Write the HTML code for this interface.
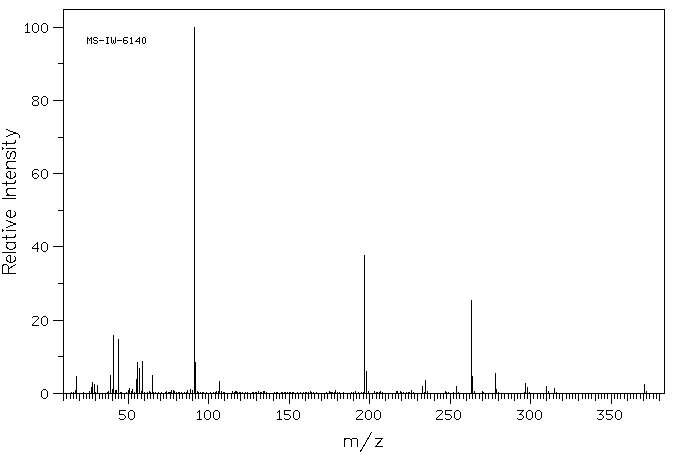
<!DOCTYPE html>
<html><head><meta charset="utf-8"><title>MS-IW-6140</title>
<style>html,body{margin:0;padding:0;background:#fff;font-family:"Liberation Sans",sans-serif}svg{display:block}</style>
</head><body>
<svg width="676" height="455" viewBox="0 0 676 455">
<rect width="676" height="455" fill="#fff"/>
<g fill="#000" shape-rendering="crispEdges">
<rect x="63" y="9" width="602" height="1"/>
<rect x="63" y="9" width="1" height="385"/>
<rect x="664" y="9" width="1" height="385"/>
<rect x="53" y="393" width="612" height="1"/>
<rect x="53" y="27" width="10" height="1"/>
<rect x="58" y="63" width="5" height="1"/>
<rect x="53" y="100" width="10" height="1"/>
<rect x="58" y="137" width="5" height="1"/>
<rect x="53" y="173" width="10" height="1"/>
<rect x="58" y="210" width="5" height="1"/>
<rect x="53" y="246" width="10" height="1"/>
<rect x="58" y="283" width="5" height="1"/>
<rect x="53" y="320" width="10" height="1"/>
<rect x="58" y="356" width="5" height="1"/>
<rect x="53" y="393" width="10" height="1"/>
<rect x="63" y="394" width="1" height="7"/>
<rect x="66" y="394" width="1" height="5"/>
<rect x="70" y="394" width="1" height="5"/>
<rect x="73" y="394" width="1" height="5"/>
<rect x="76" y="394" width="1" height="5"/>
<rect x="79" y="394" width="1" height="7"/>
<rect x="83" y="394" width="1" height="5"/>
<rect x="86" y="394" width="1" height="5"/>
<rect x="89" y="394" width="1" height="5"/>
<rect x="92" y="394" width="1" height="5"/>
<rect x="95" y="394" width="1" height="7"/>
<rect x="99" y="394" width="1" height="5"/>
<rect x="102" y="394" width="1" height="5"/>
<rect x="105" y="394" width="1" height="5"/>
<rect x="108" y="394" width="1" height="5"/>
<rect x="112" y="394" width="1" height="7"/>
<rect x="115" y="394" width="1" height="5"/>
<rect x="118" y="394" width="1" height="5"/>
<rect x="121" y="394" width="1" height="5"/>
<rect x="124" y="394" width="1" height="5"/>
<rect x="128" y="394" width="1" height="10"/>
<rect x="131" y="394" width="1" height="5"/>
<rect x="134" y="394" width="1" height="5"/>
<rect x="137" y="394" width="1" height="5"/>
<rect x="141" y="394" width="1" height="5"/>
<rect x="144" y="394" width="1" height="7"/>
<rect x="147" y="394" width="1" height="5"/>
<rect x="150" y="394" width="1" height="5"/>
<rect x="153" y="394" width="1" height="5"/>
<rect x="157" y="394" width="1" height="5"/>
<rect x="160" y="394" width="1" height="7"/>
<rect x="163" y="394" width="1" height="5"/>
<rect x="166" y="394" width="1" height="5"/>
<rect x="170" y="394" width="1" height="5"/>
<rect x="173" y="394" width="1" height="5"/>
<rect x="176" y="394" width="1" height="7"/>
<rect x="179" y="394" width="1" height="5"/>
<rect x="182" y="394" width="1" height="5"/>
<rect x="186" y="394" width="1" height="5"/>
<rect x="189" y="394" width="1" height="5"/>
<rect x="192" y="394" width="1" height="7"/>
<rect x="195" y="394" width="1" height="5"/>
<rect x="198" y="394" width="1" height="5"/>
<rect x="202" y="394" width="1" height="5"/>
<rect x="205" y="394" width="1" height="5"/>
<rect x="208" y="394" width="1" height="10"/>
<rect x="211" y="394" width="1" height="5"/>
<rect x="215" y="394" width="1" height="5"/>
<rect x="218" y="394" width="1" height="5"/>
<rect x="221" y="394" width="1" height="5"/>
<rect x="224" y="394" width="1" height="7"/>
<rect x="227" y="394" width="1" height="5"/>
<rect x="231" y="394" width="1" height="5"/>
<rect x="234" y="394" width="1" height="5"/>
<rect x="237" y="394" width="1" height="5"/>
<rect x="240" y="394" width="1" height="7"/>
<rect x="244" y="394" width="1" height="5"/>
<rect x="247" y="394" width="1" height="5"/>
<rect x="250" y="394" width="1" height="5"/>
<rect x="253" y="394" width="1" height="5"/>
<rect x="256" y="394" width="1" height="7"/>
<rect x="260" y="394" width="1" height="5"/>
<rect x="263" y="394" width="1" height="5"/>
<rect x="266" y="394" width="1" height="5"/>
<rect x="269" y="394" width="1" height="5"/>
<rect x="273" y="394" width="1" height="7"/>
<rect x="276" y="394" width="1" height="5"/>
<rect x="279" y="394" width="1" height="5"/>
<rect x="282" y="394" width="1" height="5"/>
<rect x="285" y="394" width="1" height="5"/>
<rect x="289" y="394" width="1" height="10"/>
<rect x="292" y="394" width="1" height="5"/>
<rect x="295" y="394" width="1" height="5"/>
<rect x="298" y="394" width="1" height="5"/>
<rect x="302" y="394" width="1" height="5"/>
<rect x="305" y="394" width="1" height="7"/>
<rect x="308" y="394" width="1" height="5"/>
<rect x="311" y="394" width="1" height="5"/>
<rect x="314" y="394" width="1" height="5"/>
<rect x="318" y="394" width="1" height="5"/>
<rect x="321" y="394" width="1" height="7"/>
<rect x="324" y="394" width="1" height="5"/>
<rect x="327" y="394" width="1" height="5"/>
<rect x="331" y="394" width="1" height="5"/>
<rect x="334" y="394" width="1" height="5"/>
<rect x="337" y="394" width="1" height="7"/>
<rect x="340" y="394" width="1" height="5"/>
<rect x="343" y="394" width="1" height="5"/>
<rect x="347" y="394" width="1" height="5"/>
<rect x="350" y="394" width="1" height="5"/>
<rect x="353" y="394" width="1" height="7"/>
<rect x="356" y="394" width="1" height="5"/>
<rect x="359" y="394" width="1" height="5"/>
<rect x="363" y="394" width="1" height="5"/>
<rect x="366" y="394" width="1" height="5"/>
<rect x="369" y="394" width="1" height="10"/>
<rect x="372" y="394" width="1" height="5"/>
<rect x="376" y="394" width="1" height="5"/>
<rect x="379" y="394" width="1" height="5"/>
<rect x="382" y="394" width="1" height="5"/>
<rect x="385" y="394" width="1" height="7"/>
<rect x="388" y="394" width="1" height="5"/>
<rect x="392" y="394" width="1" height="5"/>
<rect x="395" y="394" width="1" height="5"/>
<rect x="398" y="394" width="1" height="5"/>
<rect x="401" y="394" width="1" height="7"/>
<rect x="405" y="394" width="1" height="5"/>
<rect x="408" y="394" width="1" height="5"/>
<rect x="411" y="394" width="1" height="5"/>
<rect x="414" y="394" width="1" height="5"/>
<rect x="417" y="394" width="1" height="7"/>
<rect x="421" y="394" width="1" height="5"/>
<rect x="424" y="394" width="1" height="5"/>
<rect x="427" y="394" width="1" height="5"/>
<rect x="430" y="394" width="1" height="5"/>
<rect x="434" y="394" width="1" height="7"/>
<rect x="437" y="394" width="1" height="5"/>
<rect x="440" y="394" width="1" height="5"/>
<rect x="443" y="394" width="1" height="5"/>
<rect x="446" y="394" width="1" height="5"/>
<rect x="450" y="394" width="1" height="10"/>
<rect x="453" y="394" width="1" height="5"/>
<rect x="456" y="394" width="1" height="5"/>
<rect x="459" y="394" width="1" height="5"/>
<rect x="463" y="394" width="1" height="5"/>
<rect x="466" y="394" width="1" height="7"/>
<rect x="469" y="394" width="1" height="5"/>
<rect x="472" y="394" width="1" height="5"/>
<rect x="475" y="394" width="1" height="5"/>
<rect x="479" y="394" width="1" height="5"/>
<rect x="482" y="394" width="1" height="7"/>
<rect x="485" y="394" width="1" height="5"/>
<rect x="488" y="394" width="1" height="5"/>
<rect x="492" y="394" width="1" height="5"/>
<rect x="495" y="394" width="1" height="5"/>
<rect x="498" y="394" width="1" height="7"/>
<rect x="501" y="394" width="1" height="5"/>
<rect x="504" y="394" width="1" height="5"/>
<rect x="508" y="394" width="1" height="5"/>
<rect x="511" y="394" width="1" height="5"/>
<rect x="514" y="394" width="1" height="7"/>
<rect x="517" y="394" width="1" height="5"/>
<rect x="520" y="394" width="1" height="5"/>
<rect x="524" y="394" width="1" height="5"/>
<rect x="527" y="394" width="1" height="5"/>
<rect x="530" y="394" width="1" height="10"/>
<rect x="533" y="394" width="1" height="5"/>
<rect x="537" y="394" width="1" height="5"/>
<rect x="540" y="394" width="1" height="5"/>
<rect x="543" y="394" width="1" height="5"/>
<rect x="546" y="394" width="1" height="7"/>
<rect x="549" y="394" width="1" height="5"/>
<rect x="553" y="394" width="1" height="5"/>
<rect x="556" y="394" width="1" height="5"/>
<rect x="559" y="394" width="1" height="5"/>
<rect x="562" y="394" width="1" height="7"/>
<rect x="566" y="394" width="1" height="5"/>
<rect x="569" y="394" width="1" height="5"/>
<rect x="572" y="394" width="1" height="5"/>
<rect x="575" y="394" width="1" height="5"/>
<rect x="578" y="394" width="1" height="7"/>
<rect x="582" y="394" width="1" height="5"/>
<rect x="585" y="394" width="1" height="5"/>
<rect x="588" y="394" width="1" height="5"/>
<rect x="591" y="394" width="1" height="5"/>
<rect x="595" y="394" width="1" height="7"/>
<rect x="598" y="394" width="1" height="5"/>
<rect x="601" y="394" width="1" height="5"/>
<rect x="604" y="394" width="1" height="5"/>
<rect x="607" y="394" width="1" height="5"/>
<rect x="611" y="394" width="1" height="10"/>
<rect x="614" y="394" width="1" height="5"/>
<rect x="617" y="394" width="1" height="5"/>
<rect x="620" y="394" width="1" height="5"/>
<rect x="624" y="394" width="1" height="5"/>
<rect x="627" y="394" width="1" height="7"/>
<rect x="630" y="394" width="1" height="5"/>
<rect x="633" y="394" width="1" height="5"/>
<rect x="636" y="394" width="1" height="5"/>
<rect x="640" y="394" width="1" height="5"/>
<rect x="643" y="394" width="1" height="7"/>
<rect x="646" y="394" width="1" height="5"/>
<rect x="649" y="394" width="1" height="5"/>
<rect x="653" y="394" width="1" height="5"/>
<rect x="656" y="394" width="1" height="5"/>
<rect x="659" y="394" width="1" height="7"/>
<rect x="71" y="392" width="1" height="1"/>
<rect x="73" y="392" width="1" height="1"/>
<rect x="75" y="390" width="1" height="3"/>
<rect x="76" y="376" width="1" height="17"/>
<rect x="83" y="392" width="1" height="1"/>
<rect x="89" y="391" width="1" height="2"/>
<rect x="91" y="387" width="1" height="6"/>
<rect x="92" y="382" width="1" height="11"/>
<rect x="94" y="384" width="1" height="9"/>
<rect x="95" y="392" width="1" height="1"/>
<rect x="97" y="385" width="1" height="8"/>
<rect x="107" y="392" width="1" height="1"/>
<rect x="108" y="391" width="1" height="2"/>
<rect x="110" y="375" width="1" height="18"/>
<rect x="112" y="389" width="1" height="4"/>
<rect x="113" y="335" width="1" height="58"/>
<rect x="115" y="390" width="1" height="3"/>
<rect x="116" y="390" width="1" height="3"/>
<rect x="118" y="339" width="1" height="54"/>
<rect x="120" y="392" width="1" height="1"/>
<rect x="121" y="392" width="1" height="1"/>
<rect x="126" y="392" width="1" height="1"/>
<rect x="128" y="390" width="1" height="3"/>
<rect x="129" y="388" width="1" height="5"/>
<rect x="131" y="391" width="1" height="2"/>
<rect x="132" y="389" width="1" height="4"/>
<rect x="134" y="392" width="1" height="1"/>
<rect x="136" y="379" width="1" height="14"/>
<rect x="137" y="362" width="1" height="31"/>
<rect x="139" y="368" width="1" height="25"/>
<rect x="141" y="391" width="1" height="2"/>
<rect x="142" y="361" width="1" height="32"/>
<rect x="144" y="392" width="1" height="1"/>
<rect x="147" y="392" width="1" height="1"/>
<rect x="149" y="391" width="1" height="2"/>
<rect x="150" y="392" width="1" height="1"/>
<rect x="152" y="375" width="1" height="18"/>
<rect x="153" y="392" width="1" height="1"/>
<rect x="155" y="392" width="1" height="1"/>
<rect x="158" y="392" width="1" height="1"/>
<rect x="161" y="392" width="1" height="1"/>
<rect x="165" y="392" width="1" height="1"/>
<rect x="166" y="391" width="1" height="2"/>
<rect x="168" y="392" width="1" height="1"/>
<rect x="169" y="392" width="1" height="1"/>
<rect x="170" y="392" width="1" height="1"/>
<rect x="171" y="390" width="1" height="3"/>
<rect x="173" y="390" width="1" height="3"/>
<rect x="174" y="391" width="1" height="2"/>
<rect x="176" y="392" width="1" height="1"/>
<rect x="178" y="392" width="1" height="1"/>
<rect x="179" y="392" width="1" height="1"/>
<rect x="181" y="392" width="1" height="1"/>
<rect x="184" y="392" width="1" height="1"/>
<rect x="186" y="392" width="1" height="1"/>
<rect x="187" y="390" width="1" height="3"/>
<rect x="190" y="389" width="1" height="4"/>
<rect x="192" y="390" width="1" height="3"/>
<rect x="194" y="27" width="1" height="366"/>
<rect x="195" y="362" width="1" height="31"/>
<rect x="197" y="391" width="1" height="2"/>
<rect x="198" y="392" width="1" height="1"/>
<rect x="200" y="392" width="1" height="1"/>
<rect x="202" y="392" width="1" height="1"/>
<rect x="203" y="392" width="1" height="1"/>
<rect x="206" y="392" width="1" height="1"/>
<rect x="210" y="392" width="1" height="1"/>
<rect x="213" y="392" width="1" height="1"/>
<rect x="215" y="392" width="1" height="1"/>
<rect x="216" y="391" width="1" height="2"/>
<rect x="218" y="391" width="1" height="2"/>
<rect x="219" y="381" width="1" height="12"/>
<rect x="221" y="391" width="1" height="2"/>
<rect x="223" y="392" width="1" height="1"/>
<rect x="224" y="392" width="1" height="1"/>
<rect x="232" y="391" width="1" height="2"/>
<rect x="234" y="392" width="1" height="1"/>
<rect x="235" y="391" width="1" height="2"/>
<rect x="236" y="391" width="1" height="2"/>
<rect x="237" y="392" width="1" height="1"/>
<rect x="239" y="392" width="1" height="1"/>
<rect x="240" y="392" width="1" height="1"/>
<rect x="242" y="392" width="1" height="1"/>
<rect x="245" y="392" width="1" height="1"/>
<rect x="247" y="392" width="1" height="1"/>
<rect x="252" y="392" width="1" height="1"/>
<rect x="253" y="392" width="1" height="1"/>
<rect x="255" y="392" width="1" height="1"/>
<rect x="256" y="392" width="1" height="1"/>
<rect x="258" y="391" width="1" height="2"/>
<rect x="260" y="392" width="1" height="1"/>
<rect x="261" y="392" width="1" height="1"/>
<rect x="263" y="391" width="1" height="2"/>
<rect x="264" y="391" width="1" height="2"/>
<rect x="266" y="392" width="1" height="1"/>
<rect x="274" y="392" width="1" height="1"/>
<rect x="276" y="392" width="1" height="1"/>
<rect x="277" y="392" width="1" height="1"/>
<rect x="281" y="392" width="1" height="1"/>
<rect x="282" y="392" width="1" height="1"/>
<rect x="284" y="392" width="1" height="1"/>
<rect x="285" y="392" width="1" height="1"/>
<rect x="287" y="392" width="1" height="1"/>
<rect x="289" y="392" width="1" height="1"/>
<rect x="290" y="392" width="1" height="1"/>
<rect x="292" y="392" width="1" height="1"/>
<rect x="293" y="392" width="1" height="1"/>
<rect x="297" y="392" width="1" height="1"/>
<rect x="300" y="392" width="1" height="1"/>
<rect x="303" y="392" width="1" height="1"/>
<rect x="305" y="392" width="1" height="1"/>
<rect x="306" y="392" width="1" height="1"/>
<rect x="308" y="392" width="1" height="1"/>
<rect x="310" y="391" width="1" height="2"/>
<rect x="311" y="392" width="1" height="1"/>
<rect x="313" y="392" width="1" height="1"/>
<rect x="316" y="392" width="1" height="1"/>
<rect x="326" y="392" width="1" height="1"/>
<rect x="329" y="391" width="1" height="2"/>
<rect x="330" y="392" width="1" height="1"/>
<rect x="331" y="392" width="1" height="1"/>
<rect x="332" y="392" width="1" height="1"/>
<rect x="334" y="392" width="1" height="1"/>
<rect x="335" y="390" width="1" height="3"/>
<rect x="337" y="392" width="1" height="1"/>
<rect x="339" y="392" width="1" height="1"/>
<rect x="343" y="392" width="1" height="1"/>
<rect x="351" y="392" width="1" height="1"/>
<rect x="353" y="392" width="1" height="1"/>
<rect x="355" y="391" width="1" height="2"/>
<rect x="358" y="392" width="1" height="1"/>
<rect x="361" y="392" width="1" height="1"/>
<rect x="363" y="392" width="1" height="1"/>
<rect x="364" y="255" width="1" height="138"/>
<rect x="366" y="371" width="1" height="22"/>
<rect x="368" y="391" width="1" height="2"/>
<rect x="374" y="391" width="1" height="2"/>
<rect x="376" y="392" width="1" height="1"/>
<rect x="377" y="392" width="1" height="1"/>
<rect x="379" y="392" width="1" height="1"/>
<rect x="380" y="391" width="1" height="2"/>
<rect x="382" y="392" width="1" height="1"/>
<rect x="396" y="391" width="1" height="2"/>
<rect x="397" y="391" width="1" height="2"/>
<rect x="400" y="391" width="1" height="2"/>
<rect x="401" y="392" width="1" height="1"/>
<rect x="403" y="392" width="1" height="1"/>
<rect x="406" y="392" width="1" height="1"/>
<rect x="408" y="392" width="1" height="1"/>
<rect x="409" y="392" width="1" height="1"/>
<rect x="411" y="390" width="1" height="3"/>
<rect x="413" y="392" width="1" height="1"/>
<rect x="422" y="386" width="1" height="7"/>
<rect x="424" y="392" width="1" height="1"/>
<rect x="425" y="380" width="1" height="13"/>
<rect x="427" y="391" width="1" height="2"/>
<rect x="445" y="391" width="1" height="2"/>
<rect x="446" y="392" width="1" height="1"/>
<rect x="448" y="392" width="1" height="1"/>
<rect x="453" y="392" width="1" height="1"/>
<rect x="456" y="386" width="1" height="7"/>
<rect x="458" y="392" width="1" height="1"/>
<rect x="471" y="300" width="1" height="93"/>
<rect x="472" y="376" width="1" height="17"/>
<rect x="474" y="391" width="1" height="2"/>
<rect x="482" y="391" width="1" height="2"/>
<rect x="483" y="392" width="1" height="1"/>
<rect x="495" y="373" width="1" height="20"/>
<rect x="496" y="389" width="1" height="4"/>
<rect x="498" y="392" width="1" height="1"/>
<rect x="524" y="392" width="1" height="1"/>
<rect x="525" y="383" width="1" height="10"/>
<rect x="527" y="387" width="1" height="6"/>
<rect x="529" y="392" width="1" height="1"/>
<rect x="546" y="386" width="1" height="7"/>
<rect x="548" y="391" width="1" height="2"/>
<rect x="554" y="388" width="1" height="5"/>
<rect x="556" y="392" width="1" height="1"/>
<rect x="644" y="384" width="1" height="9"/>
<rect x="646" y="391" width="1" height="2"/>
<rect x="87" y="37" width="1" height="1"/>
<rect x="91" y="37" width="1" height="1"/>
<rect x="87" y="38" width="2" height="1"/>
<rect x="90" y="38" width="2" height="1"/>
<rect x="87" y="39" width="1" height="1"/>
<rect x="89" y="39" width="1" height="1"/>
<rect x="91" y="39" width="1" height="1"/>
<rect x="87" y="40" width="1" height="1"/>
<rect x="89" y="40" width="1" height="1"/>
<rect x="91" y="40" width="1" height="1"/>
<rect x="87" y="41" width="1" height="1"/>
<rect x="91" y="41" width="1" height="1"/>
<rect x="87" y="42" width="1" height="1"/>
<rect x="91" y="42" width="1" height="1"/>
<rect x="87" y="43" width="1" height="1"/>
<rect x="91" y="43" width="1" height="1"/>
<rect x="94" y="37" width="3" height="1"/>
<rect x="93" y="38" width="1" height="1"/>
<rect x="97" y="38" width="1" height="1"/>
<rect x="93" y="39" width="1" height="1"/>
<rect x="94" y="40" width="3" height="1"/>
<rect x="97" y="41" width="1" height="1"/>
<rect x="93" y="42" width="1" height="1"/>
<rect x="97" y="42" width="1" height="1"/>
<rect x="94" y="43" width="3" height="1"/>
<rect x="99" y="40" width="5" height="1"/>
<rect x="106" y="37" width="3" height="1"/>
<rect x="107" y="38" width="1" height="1"/>
<rect x="107" y="39" width="1" height="1"/>
<rect x="107" y="40" width="1" height="1"/>
<rect x="107" y="41" width="1" height="1"/>
<rect x="107" y="42" width="1" height="1"/>
<rect x="106" y="43" width="3" height="1"/>
<rect x="111" y="37" width="1" height="1"/>
<rect x="115" y="37" width="1" height="1"/>
<rect x="111" y="38" width="1" height="1"/>
<rect x="115" y="38" width="1" height="1"/>
<rect x="111" y="39" width="1" height="1"/>
<rect x="115" y="39" width="1" height="1"/>
<rect x="111" y="40" width="1" height="1"/>
<rect x="113" y="40" width="1" height="1"/>
<rect x="115" y="40" width="1" height="1"/>
<rect x="111" y="41" width="1" height="1"/>
<rect x="113" y="41" width="1" height="1"/>
<rect x="115" y="41" width="1" height="1"/>
<rect x="111" y="42" width="1" height="1"/>
<rect x="113" y="42" width="1" height="1"/>
<rect x="115" y="42" width="1" height="1"/>
<rect x="112" y="43" width="1" height="1"/>
<rect x="114" y="43" width="1" height="1"/>
<rect x="117" y="40" width="5" height="1"/>
<rect x="124" y="37" width="4" height="1"/>
<rect x="123" y="38" width="1" height="1"/>
<rect x="123" y="39" width="1" height="1"/>
<rect x="123" y="40" width="4" height="1"/>
<rect x="123" y="41" width="1" height="1"/>
<rect x="127" y="41" width="1" height="1"/>
<rect x="123" y="42" width="1" height="1"/>
<rect x="127" y="42" width="1" height="1"/>
<rect x="124" y="43" width="3" height="1"/>
<rect x="131" y="37" width="1" height="1"/>
<rect x="130" y="38" width="2" height="1"/>
<rect x="131" y="39" width="1" height="1"/>
<rect x="131" y="40" width="1" height="1"/>
<rect x="131" y="41" width="1" height="1"/>
<rect x="131" y="42" width="1" height="1"/>
<rect x="130" y="43" width="3" height="1"/>
<rect x="139" y="37" width="1" height="1"/>
<rect x="138" y="38" width="2" height="1"/>
<rect x="137" y="39" width="1" height="1"/>
<rect x="139" y="39" width="1" height="1"/>
<rect x="136" y="40" width="1" height="1"/>
<rect x="139" y="40" width="1" height="1"/>
<rect x="135" y="41" width="5" height="1"/>
<rect x="139" y="42" width="1" height="1"/>
<rect x="139" y="43" width="1" height="1"/>
<rect x="143" y="37" width="2" height="1"/>
<rect x="142" y="38" width="1" height="1"/>
<rect x="145" y="38" width="1" height="1"/>
<rect x="142" y="39" width="1" height="1"/>
<rect x="145" y="39" width="1" height="1"/>
<rect x="142" y="40" width="1" height="1"/>
<rect x="145" y="40" width="1" height="1"/>
<rect x="142" y="41" width="1" height="1"/>
<rect x="145" y="41" width="1" height="1"/>
<rect x="142" y="42" width="1" height="1"/>
<rect x="145" y="42" width="1" height="1"/>
<rect x="143" y="43" width="2" height="1"/>
<rect x="27" y="23" width="1" height="1"/>
<rect x="26" y="24" width="2" height="1"/>
<rect x="25" y="25" width="1" height="1"/>
<rect x="27" y="25" width="1" height="1"/>
<rect x="27" y="26" width="1" height="1"/>
<rect x="27" y="27" width="1" height="1"/>
<rect x="27" y="28" width="1" height="1"/>
<rect x="27" y="29" width="1" height="1"/>
<rect x="27" y="30" width="1" height="1"/>
<rect x="27" y="31" width="1" height="1"/>
<rect x="25" y="32" width="5" height="1"/>
<rect x="34" y="23" width="3" height="1"/>
<rect x="33" y="24" width="1" height="1"/>
<rect x="37" y="24" width="1" height="1"/>
<rect x="32" y="25" width="1" height="1"/>
<rect x="38" y="25" width="1" height="1"/>
<rect x="32" y="26" width="1" height="1"/>
<rect x="38" y="26" width="1" height="1"/>
<rect x="32" y="27" width="1" height="1"/>
<rect x="38" y="27" width="1" height="1"/>
<rect x="32" y="28" width="1" height="1"/>
<rect x="38" y="28" width="1" height="1"/>
<rect x="32" y="29" width="1" height="1"/>
<rect x="38" y="29" width="1" height="1"/>
<rect x="32" y="30" width="1" height="1"/>
<rect x="38" y="30" width="1" height="1"/>
<rect x="33" y="31" width="1" height="1"/>
<rect x="37" y="31" width="1" height="1"/>
<rect x="34" y="32" width="3" height="1"/>
<rect x="43" y="23" width="3" height="1"/>
<rect x="42" y="24" width="1" height="1"/>
<rect x="46" y="24" width="1" height="1"/>
<rect x="41" y="25" width="1" height="1"/>
<rect x="47" y="25" width="1" height="1"/>
<rect x="41" y="26" width="1" height="1"/>
<rect x="47" y="26" width="1" height="1"/>
<rect x="41" y="27" width="1" height="1"/>
<rect x="47" y="27" width="1" height="1"/>
<rect x="41" y="28" width="1" height="1"/>
<rect x="47" y="28" width="1" height="1"/>
<rect x="41" y="29" width="1" height="1"/>
<rect x="47" y="29" width="1" height="1"/>
<rect x="41" y="30" width="1" height="1"/>
<rect x="47" y="30" width="1" height="1"/>
<rect x="42" y="31" width="1" height="1"/>
<rect x="46" y="31" width="1" height="1"/>
<rect x="43" y="32" width="3" height="1"/>
<rect x="33" y="96" width="5" height="1"/>
<rect x="32" y="97" width="1" height="1"/>
<rect x="38" y="97" width="1" height="1"/>
<rect x="32" y="98" width="1" height="1"/>
<rect x="38" y="98" width="1" height="1"/>
<rect x="33" y="99" width="1" height="1"/>
<rect x="37" y="99" width="1" height="1"/>
<rect x="34" y="100" width="3" height="1"/>
<rect x="33" y="101" width="1" height="1"/>
<rect x="37" y="101" width="1" height="1"/>
<rect x="32" y="102" width="1" height="1"/>
<rect x="38" y="102" width="1" height="1"/>
<rect x="32" y="103" width="1" height="1"/>
<rect x="38" y="103" width="1" height="1"/>
<rect x="32" y="104" width="1" height="1"/>
<rect x="38" y="104" width="1" height="1"/>
<rect x="33" y="105" width="5" height="1"/>
<rect x="43" y="96" width="3" height="1"/>
<rect x="42" y="97" width="1" height="1"/>
<rect x="46" y="97" width="1" height="1"/>
<rect x="41" y="98" width="1" height="1"/>
<rect x="47" y="98" width="1" height="1"/>
<rect x="41" y="99" width="1" height="1"/>
<rect x="47" y="99" width="1" height="1"/>
<rect x="41" y="100" width="1" height="1"/>
<rect x="47" y="100" width="1" height="1"/>
<rect x="41" y="101" width="1" height="1"/>
<rect x="47" y="101" width="1" height="1"/>
<rect x="41" y="102" width="1" height="1"/>
<rect x="47" y="102" width="1" height="1"/>
<rect x="41" y="103" width="1" height="1"/>
<rect x="47" y="103" width="1" height="1"/>
<rect x="42" y="104" width="1" height="1"/>
<rect x="46" y="104" width="1" height="1"/>
<rect x="43" y="105" width="3" height="1"/>
<rect x="34" y="169" width="4" height="1"/>
<rect x="33" y="170" width="1" height="1"/>
<rect x="38" y="170" width="1" height="1"/>
<rect x="32" y="171" width="1" height="1"/>
<rect x="32" y="172" width="1" height="1"/>
<rect x="32" y="173" width="1" height="1"/>
<rect x="34" y="173" width="3" height="1"/>
<rect x="32" y="174" width="2" height="1"/>
<rect x="37" y="174" width="1" height="1"/>
<rect x="32" y="175" width="1" height="1"/>
<rect x="38" y="175" width="1" height="1"/>
<rect x="32" y="176" width="1" height="1"/>
<rect x="38" y="176" width="1" height="1"/>
<rect x="33" y="177" width="1" height="1"/>
<rect x="37" y="177" width="1" height="1"/>
<rect x="34" y="178" width="3" height="1"/>
<rect x="43" y="169" width="3" height="1"/>
<rect x="42" y="170" width="1" height="1"/>
<rect x="46" y="170" width="1" height="1"/>
<rect x="41" y="171" width="1" height="1"/>
<rect x="47" y="171" width="1" height="1"/>
<rect x="41" y="172" width="1" height="1"/>
<rect x="47" y="172" width="1" height="1"/>
<rect x="41" y="173" width="1" height="1"/>
<rect x="47" y="173" width="1" height="1"/>
<rect x="41" y="174" width="1" height="1"/>
<rect x="47" y="174" width="1" height="1"/>
<rect x="41" y="175" width="1" height="1"/>
<rect x="47" y="175" width="1" height="1"/>
<rect x="41" y="176" width="1" height="1"/>
<rect x="47" y="176" width="1" height="1"/>
<rect x="42" y="177" width="1" height="1"/>
<rect x="46" y="177" width="1" height="1"/>
<rect x="43" y="178" width="3" height="1"/>
<rect x="37" y="242" width="1" height="1"/>
<rect x="36" y="243" width="2" height="1"/>
<rect x="35" y="244" width="1" height="1"/>
<rect x="37" y="244" width="1" height="1"/>
<rect x="34" y="245" width="1" height="1"/>
<rect x="37" y="245" width="1" height="1"/>
<rect x="33" y="246" width="1" height="1"/>
<rect x="37" y="246" width="1" height="1"/>
<rect x="32" y="247" width="1" height="1"/>
<rect x="37" y="247" width="1" height="1"/>
<rect x="32" y="248" width="7" height="1"/>
<rect x="37" y="249" width="1" height="1"/>
<rect x="37" y="250" width="1" height="1"/>
<rect x="37" y="251" width="1" height="1"/>
<rect x="43" y="242" width="3" height="1"/>
<rect x="42" y="243" width="1" height="1"/>
<rect x="46" y="243" width="1" height="1"/>
<rect x="41" y="244" width="1" height="1"/>
<rect x="47" y="244" width="1" height="1"/>
<rect x="41" y="245" width="1" height="1"/>
<rect x="47" y="245" width="1" height="1"/>
<rect x="41" y="246" width="1" height="1"/>
<rect x="47" y="246" width="1" height="1"/>
<rect x="41" y="247" width="1" height="1"/>
<rect x="47" y="247" width="1" height="1"/>
<rect x="41" y="248" width="1" height="1"/>
<rect x="47" y="248" width="1" height="1"/>
<rect x="41" y="249" width="1" height="1"/>
<rect x="47" y="249" width="1" height="1"/>
<rect x="42" y="250" width="1" height="1"/>
<rect x="46" y="250" width="1" height="1"/>
<rect x="43" y="251" width="3" height="1"/>
<rect x="33" y="316" width="5" height="1"/>
<rect x="32" y="317" width="1" height="1"/>
<rect x="38" y="317" width="1" height="1"/>
<rect x="38" y="318" width="1" height="1"/>
<rect x="37" y="319" width="1" height="1"/>
<rect x="36" y="320" width="1" height="1"/>
<rect x="35" y="321" width="1" height="1"/>
<rect x="34" y="322" width="1" height="1"/>
<rect x="33" y="323" width="1" height="1"/>
<rect x="32" y="324" width="1" height="1"/>
<rect x="32" y="325" width="7" height="1"/>
<rect x="43" y="316" width="3" height="1"/>
<rect x="42" y="317" width="1" height="1"/>
<rect x="46" y="317" width="1" height="1"/>
<rect x="41" y="318" width="1" height="1"/>
<rect x="47" y="318" width="1" height="1"/>
<rect x="41" y="319" width="1" height="1"/>
<rect x="47" y="319" width="1" height="1"/>
<rect x="41" y="320" width="1" height="1"/>
<rect x="47" y="320" width="1" height="1"/>
<rect x="41" y="321" width="1" height="1"/>
<rect x="47" y="321" width="1" height="1"/>
<rect x="41" y="322" width="1" height="1"/>
<rect x="47" y="322" width="1" height="1"/>
<rect x="41" y="323" width="1" height="1"/>
<rect x="47" y="323" width="1" height="1"/>
<rect x="42" y="324" width="1" height="1"/>
<rect x="46" y="324" width="1" height="1"/>
<rect x="43" y="325" width="3" height="1"/>
<rect x="43" y="389" width="3" height="1"/>
<rect x="42" y="390" width="1" height="1"/>
<rect x="46" y="390" width="1" height="1"/>
<rect x="41" y="391" width="1" height="1"/>
<rect x="47" y="391" width="1" height="1"/>
<rect x="41" y="392" width="1" height="1"/>
<rect x="47" y="392" width="1" height="1"/>
<rect x="41" y="393" width="1" height="1"/>
<rect x="47" y="393" width="1" height="1"/>
<rect x="41" y="394" width="1" height="1"/>
<rect x="47" y="394" width="1" height="1"/>
<rect x="41" y="395" width="1" height="1"/>
<rect x="47" y="395" width="1" height="1"/>
<rect x="41" y="396" width="1" height="1"/>
<rect x="47" y="396" width="1" height="1"/>
<rect x="42" y="397" width="1" height="1"/>
<rect x="46" y="397" width="1" height="1"/>
<rect x="43" y="398" width="3" height="1"/>
<rect x="119" y="410" width="7" height="1"/>
<rect x="119" y="411" width="1" height="1"/>
<rect x="119" y="412" width="1" height="1"/>
<rect x="119" y="413" width="1" height="1"/>
<rect x="119" y="414" width="5" height="1"/>
<rect x="124" y="415" width="1" height="1"/>
<rect x="125" y="416" width="1" height="1"/>
<rect x="125" y="417" width="1" height="1"/>
<rect x="119" y="418" width="1" height="1"/>
<rect x="124" y="418" width="1" height="1"/>
<rect x="120" y="419" width="4" height="1"/>
<rect x="130" y="410" width="3" height="1"/>
<rect x="129" y="411" width="1" height="1"/>
<rect x="133" y="411" width="1" height="1"/>
<rect x="128" y="412" width="1" height="1"/>
<rect x="134" y="412" width="1" height="1"/>
<rect x="128" y="413" width="1" height="1"/>
<rect x="134" y="413" width="1" height="1"/>
<rect x="128" y="414" width="1" height="1"/>
<rect x="134" y="414" width="1" height="1"/>
<rect x="128" y="415" width="1" height="1"/>
<rect x="134" y="415" width="1" height="1"/>
<rect x="128" y="416" width="1" height="1"/>
<rect x="134" y="416" width="1" height="1"/>
<rect x="128" y="417" width="1" height="1"/>
<rect x="134" y="417" width="1" height="1"/>
<rect x="129" y="418" width="1" height="1"/>
<rect x="133" y="418" width="1" height="1"/>
<rect x="130" y="419" width="3" height="1"/>
<rect x="199" y="410" width="1" height="1"/>
<rect x="198" y="411" width="2" height="1"/>
<rect x="197" y="412" width="1" height="1"/>
<rect x="199" y="412" width="1" height="1"/>
<rect x="199" y="413" width="1" height="1"/>
<rect x="199" y="414" width="1" height="1"/>
<rect x="199" y="415" width="1" height="1"/>
<rect x="199" y="416" width="1" height="1"/>
<rect x="199" y="417" width="1" height="1"/>
<rect x="199" y="418" width="1" height="1"/>
<rect x="197" y="419" width="5" height="1"/>
<rect x="206" y="410" width="3" height="1"/>
<rect x="205" y="411" width="1" height="1"/>
<rect x="209" y="411" width="1" height="1"/>
<rect x="204" y="412" width="1" height="1"/>
<rect x="210" y="412" width="1" height="1"/>
<rect x="204" y="413" width="1" height="1"/>
<rect x="210" y="413" width="1" height="1"/>
<rect x="204" y="414" width="1" height="1"/>
<rect x="210" y="414" width="1" height="1"/>
<rect x="204" y="415" width="1" height="1"/>
<rect x="210" y="415" width="1" height="1"/>
<rect x="204" y="416" width="1" height="1"/>
<rect x="210" y="416" width="1" height="1"/>
<rect x="204" y="417" width="1" height="1"/>
<rect x="210" y="417" width="1" height="1"/>
<rect x="205" y="418" width="1" height="1"/>
<rect x="209" y="418" width="1" height="1"/>
<rect x="206" y="419" width="3" height="1"/>
<rect x="215" y="410" width="3" height="1"/>
<rect x="214" y="411" width="1" height="1"/>
<rect x="218" y="411" width="1" height="1"/>
<rect x="213" y="412" width="1" height="1"/>
<rect x="219" y="412" width="1" height="1"/>
<rect x="213" y="413" width="1" height="1"/>
<rect x="219" y="413" width="1" height="1"/>
<rect x="213" y="414" width="1" height="1"/>
<rect x="219" y="414" width="1" height="1"/>
<rect x="213" y="415" width="1" height="1"/>
<rect x="219" y="415" width="1" height="1"/>
<rect x="213" y="416" width="1" height="1"/>
<rect x="219" y="416" width="1" height="1"/>
<rect x="213" y="417" width="1" height="1"/>
<rect x="219" y="417" width="1" height="1"/>
<rect x="214" y="418" width="1" height="1"/>
<rect x="218" y="418" width="1" height="1"/>
<rect x="215" y="419" width="3" height="1"/>
<rect x="279" y="410" width="1" height="1"/>
<rect x="278" y="411" width="2" height="1"/>
<rect x="277" y="412" width="1" height="1"/>
<rect x="279" y="412" width="1" height="1"/>
<rect x="279" y="413" width="1" height="1"/>
<rect x="279" y="414" width="1" height="1"/>
<rect x="279" y="415" width="1" height="1"/>
<rect x="279" y="416" width="1" height="1"/>
<rect x="279" y="417" width="1" height="1"/>
<rect x="279" y="418" width="1" height="1"/>
<rect x="277" y="419" width="5" height="1"/>
<rect x="284" y="410" width="7" height="1"/>
<rect x="284" y="411" width="1" height="1"/>
<rect x="284" y="412" width="1" height="1"/>
<rect x="284" y="413" width="1" height="1"/>
<rect x="284" y="414" width="5" height="1"/>
<rect x="289" y="415" width="1" height="1"/>
<rect x="290" y="416" width="1" height="1"/>
<rect x="290" y="417" width="1" height="1"/>
<rect x="284" y="418" width="1" height="1"/>
<rect x="289" y="418" width="1" height="1"/>
<rect x="285" y="419" width="4" height="1"/>
<rect x="295" y="410" width="3" height="1"/>
<rect x="294" y="411" width="1" height="1"/>
<rect x="298" y="411" width="1" height="1"/>
<rect x="293" y="412" width="1" height="1"/>
<rect x="299" y="412" width="1" height="1"/>
<rect x="293" y="413" width="1" height="1"/>
<rect x="299" y="413" width="1" height="1"/>
<rect x="293" y="414" width="1" height="1"/>
<rect x="299" y="414" width="1" height="1"/>
<rect x="293" y="415" width="1" height="1"/>
<rect x="299" y="415" width="1" height="1"/>
<rect x="293" y="416" width="1" height="1"/>
<rect x="299" y="416" width="1" height="1"/>
<rect x="293" y="417" width="1" height="1"/>
<rect x="299" y="417" width="1" height="1"/>
<rect x="294" y="418" width="1" height="1"/>
<rect x="298" y="418" width="1" height="1"/>
<rect x="295" y="419" width="3" height="1"/>
<rect x="357" y="410" width="5" height="1"/>
<rect x="356" y="411" width="1" height="1"/>
<rect x="362" y="411" width="1" height="1"/>
<rect x="362" y="412" width="1" height="1"/>
<rect x="361" y="413" width="1" height="1"/>
<rect x="360" y="414" width="1" height="1"/>
<rect x="359" y="415" width="1" height="1"/>
<rect x="358" y="416" width="1" height="1"/>
<rect x="357" y="417" width="1" height="1"/>
<rect x="356" y="418" width="1" height="1"/>
<rect x="356" y="419" width="7" height="1"/>
<rect x="367" y="410" width="3" height="1"/>
<rect x="366" y="411" width="1" height="1"/>
<rect x="370" y="411" width="1" height="1"/>
<rect x="365" y="412" width="1" height="1"/>
<rect x="371" y="412" width="1" height="1"/>
<rect x="365" y="413" width="1" height="1"/>
<rect x="371" y="413" width="1" height="1"/>
<rect x="365" y="414" width="1" height="1"/>
<rect x="371" y="414" width="1" height="1"/>
<rect x="365" y="415" width="1" height="1"/>
<rect x="371" y="415" width="1" height="1"/>
<rect x="365" y="416" width="1" height="1"/>
<rect x="371" y="416" width="1" height="1"/>
<rect x="365" y="417" width="1" height="1"/>
<rect x="371" y="417" width="1" height="1"/>
<rect x="366" y="418" width="1" height="1"/>
<rect x="370" y="418" width="1" height="1"/>
<rect x="367" y="419" width="3" height="1"/>
<rect x="376" y="410" width="3" height="1"/>
<rect x="375" y="411" width="1" height="1"/>
<rect x="379" y="411" width="1" height="1"/>
<rect x="374" y="412" width="1" height="1"/>
<rect x="380" y="412" width="1" height="1"/>
<rect x="374" y="413" width="1" height="1"/>
<rect x="380" y="413" width="1" height="1"/>
<rect x="374" y="414" width="1" height="1"/>
<rect x="380" y="414" width="1" height="1"/>
<rect x="374" y="415" width="1" height="1"/>
<rect x="380" y="415" width="1" height="1"/>
<rect x="374" y="416" width="1" height="1"/>
<rect x="380" y="416" width="1" height="1"/>
<rect x="374" y="417" width="1" height="1"/>
<rect x="380" y="417" width="1" height="1"/>
<rect x="375" y="418" width="1" height="1"/>
<rect x="379" y="418" width="1" height="1"/>
<rect x="376" y="419" width="3" height="1"/>
<rect x="437" y="410" width="5" height="1"/>
<rect x="436" y="411" width="1" height="1"/>
<rect x="442" y="411" width="1" height="1"/>
<rect x="442" y="412" width="1" height="1"/>
<rect x="441" y="413" width="1" height="1"/>
<rect x="440" y="414" width="1" height="1"/>
<rect x="439" y="415" width="1" height="1"/>
<rect x="438" y="416" width="1" height="1"/>
<rect x="437" y="417" width="1" height="1"/>
<rect x="436" y="418" width="1" height="1"/>
<rect x="436" y="419" width="7" height="1"/>
<rect x="445" y="410" width="7" height="1"/>
<rect x="445" y="411" width="1" height="1"/>
<rect x="445" y="412" width="1" height="1"/>
<rect x="445" y="413" width="1" height="1"/>
<rect x="445" y="414" width="5" height="1"/>
<rect x="450" y="415" width="1" height="1"/>
<rect x="451" y="416" width="1" height="1"/>
<rect x="451" y="417" width="1" height="1"/>
<rect x="445" y="418" width="1" height="1"/>
<rect x="450" y="418" width="1" height="1"/>
<rect x="446" y="419" width="4" height="1"/>
<rect x="456" y="410" width="3" height="1"/>
<rect x="455" y="411" width="1" height="1"/>
<rect x="459" y="411" width="1" height="1"/>
<rect x="454" y="412" width="1" height="1"/>
<rect x="460" y="412" width="1" height="1"/>
<rect x="454" y="413" width="1" height="1"/>
<rect x="460" y="413" width="1" height="1"/>
<rect x="454" y="414" width="1" height="1"/>
<rect x="460" y="414" width="1" height="1"/>
<rect x="454" y="415" width="1" height="1"/>
<rect x="460" y="415" width="1" height="1"/>
<rect x="454" y="416" width="1" height="1"/>
<rect x="460" y="416" width="1" height="1"/>
<rect x="454" y="417" width="1" height="1"/>
<rect x="460" y="417" width="1" height="1"/>
<rect x="455" y="418" width="1" height="1"/>
<rect x="459" y="418" width="1" height="1"/>
<rect x="456" y="419" width="3" height="1"/>
<rect x="517" y="410" width="7" height="1"/>
<rect x="522" y="411" width="1" height="1"/>
<rect x="521" y="412" width="1" height="1"/>
<rect x="520" y="413" width="1" height="1"/>
<rect x="519" y="414" width="3" height="1"/>
<rect x="522" y="415" width="1" height="1"/>
<rect x="523" y="416" width="1" height="1"/>
<rect x="523" y="417" width="1" height="1"/>
<rect x="517" y="418" width="1" height="1"/>
<rect x="522" y="418" width="1" height="1"/>
<rect x="518" y="419" width="4" height="1"/>
<rect x="528" y="410" width="3" height="1"/>
<rect x="527" y="411" width="1" height="1"/>
<rect x="531" y="411" width="1" height="1"/>
<rect x="526" y="412" width="1" height="1"/>
<rect x="532" y="412" width="1" height="1"/>
<rect x="526" y="413" width="1" height="1"/>
<rect x="532" y="413" width="1" height="1"/>
<rect x="526" y="414" width="1" height="1"/>
<rect x="532" y="414" width="1" height="1"/>
<rect x="526" y="415" width="1" height="1"/>
<rect x="532" y="415" width="1" height="1"/>
<rect x="526" y="416" width="1" height="1"/>
<rect x="532" y="416" width="1" height="1"/>
<rect x="526" y="417" width="1" height="1"/>
<rect x="532" y="417" width="1" height="1"/>
<rect x="527" y="418" width="1" height="1"/>
<rect x="531" y="418" width="1" height="1"/>
<rect x="528" y="419" width="3" height="1"/>
<rect x="537" y="410" width="3" height="1"/>
<rect x="536" y="411" width="1" height="1"/>
<rect x="540" y="411" width="1" height="1"/>
<rect x="535" y="412" width="1" height="1"/>
<rect x="541" y="412" width="1" height="1"/>
<rect x="535" y="413" width="1" height="1"/>
<rect x="541" y="413" width="1" height="1"/>
<rect x="535" y="414" width="1" height="1"/>
<rect x="541" y="414" width="1" height="1"/>
<rect x="535" y="415" width="1" height="1"/>
<rect x="541" y="415" width="1" height="1"/>
<rect x="535" y="416" width="1" height="1"/>
<rect x="541" y="416" width="1" height="1"/>
<rect x="535" y="417" width="1" height="1"/>
<rect x="541" y="417" width="1" height="1"/>
<rect x="536" y="418" width="1" height="1"/>
<rect x="540" y="418" width="1" height="1"/>
<rect x="537" y="419" width="3" height="1"/>
<rect x="597" y="410" width="7" height="1"/>
<rect x="602" y="411" width="1" height="1"/>
<rect x="601" y="412" width="1" height="1"/>
<rect x="600" y="413" width="1" height="1"/>
<rect x="599" y="414" width="3" height="1"/>
<rect x="602" y="415" width="1" height="1"/>
<rect x="603" y="416" width="1" height="1"/>
<rect x="603" y="417" width="1" height="1"/>
<rect x="597" y="418" width="1" height="1"/>
<rect x="602" y="418" width="1" height="1"/>
<rect x="598" y="419" width="4" height="1"/>
<rect x="606" y="410" width="7" height="1"/>
<rect x="606" y="411" width="1" height="1"/>
<rect x="606" y="412" width="1" height="1"/>
<rect x="606" y="413" width="1" height="1"/>
<rect x="606" y="414" width="5" height="1"/>
<rect x="611" y="415" width="1" height="1"/>
<rect x="612" y="416" width="1" height="1"/>
<rect x="612" y="417" width="1" height="1"/>
<rect x="606" y="418" width="1" height="1"/>
<rect x="611" y="418" width="1" height="1"/>
<rect x="607" y="419" width="4" height="1"/>
<rect x="617" y="410" width="3" height="1"/>
<rect x="616" y="411" width="1" height="1"/>
<rect x="620" y="411" width="1" height="1"/>
<rect x="615" y="412" width="1" height="1"/>
<rect x="621" y="412" width="1" height="1"/>
<rect x="615" y="413" width="1" height="1"/>
<rect x="621" y="413" width="1" height="1"/>
<rect x="615" y="414" width="1" height="1"/>
<rect x="621" y="414" width="1" height="1"/>
<rect x="615" y="415" width="1" height="1"/>
<rect x="621" y="415" width="1" height="1"/>
<rect x="615" y="416" width="1" height="1"/>
<rect x="621" y="416" width="1" height="1"/>
<rect x="615" y="417" width="1" height="1"/>
<rect x="621" y="417" width="1" height="1"/>
<rect x="616" y="418" width="1" height="1"/>
<rect x="620" y="418" width="1" height="1"/>
<rect x="617" y="419" width="3" height="1"/>
<rect x="2" y="229" width="1" height="3"/>
<rect x="3" y="230" width="1" height="1"/>
<rect x="2" y="147" width="1" height="3"/>
<rect x="3" y="148" width="1" height="1"/>
</g>
<g fill="none" stroke="#000" stroke-width="1" stroke-linecap="square" stroke-linejoin="miter" shape-rendering="crispEdges">
<path transform="translate(15.5,273.5) rotate(-90)" d="M0.00,-13.44 L0.00,0.00 M0.00,-13.44 L5.79,-13.44 L7.72,-12.80 L8.36,-12.16 L9.00,-10.88 L9.00,-9.60 L8.36,-8.32 L7.72,-7.68 L5.79,-7.04 L0.00,-7.04 M4.50,-7.04 L9.00,0.00 M11.00,-5.12 L18.02,-5.12 L18.02,-6.40 L17.43,-7.68 L16.85,-8.32 L15.68,-8.96 L13.93,-8.96 L12.75,-8.32 L11.59,-7.04 L11.00,-5.12 L11.00,-3.84 L11.59,-1.92 L12.75,-0.64 L13.93,0.00 L15.68,0.00 L16.85,-0.64 L17.61,-1.41 M21.00,-13.44 L21.00,0.00 M31.02,-8.96 L31.02,0.00 M31.02,-7.04 L29.85,-8.32 L28.68,-8.96 L26.93,-8.96 L25.75,-8.32 L24.59,-7.04 L24.00,-5.12 L24.00,-3.84 L24.59,-1.92 L25.75,-0.64 L26.93,0.00 L28.68,0.00 L29.85,-0.64 L31.02,-1.92 M35.98,-13.44 L35.98,-2.56 L36.60,-0.64 L37.84,0.00 L39.08,0.00 M34.00,-8.96 L38.09,-8.96 M43.00,-8.96 L43.00,0.00 M46.00,-8.96 L49.51,0.00 M53.02,-8.96 L49.51,0.00 M56.00,-5.12 L63.02,-5.12 L63.02,-6.40 L62.44,-7.68 L61.85,-8.32 L60.68,-8.96 L58.92,-8.96 L57.76,-8.32 L56.59,-7.04 L56.00,-5.12 L56.00,-3.84 L56.59,-1.92 L57.76,-0.64 L58.92,0.00 L60.68,0.00 L61.85,-0.64 L62.61,-1.41 M75.00,-13.44 L75.00,0.00 M78.00,-8.96 L78.00,0.00 M78.00,-6.40 L79.91,-8.32 L81.19,-8.96 L83.10,-8.96 L84.37,-8.32 L85.01,-6.40 L85.01,0.00 M89.98,-13.44 L89.98,-2.56 L90.60,-0.64 L91.84,0.00 L93.08,0.00 M88.00,-8.96 L92.09,-8.96 M95.00,-5.12 L102.02,-5.12 L102.02,-6.40 L101.44,-7.68 L100.85,-8.32 L99.68,-8.96 L97.92,-8.96 L96.75,-8.32 L95.58,-7.04 L95.00,-5.12 L95.00,-3.84 L95.58,-1.92 L96.75,-0.64 L97.92,0.00 L99.68,0.00 L100.85,-0.64 L101.61,-1.41 M105.00,-8.96 L105.00,0.00 M105.00,-6.40 L106.91,-8.32 L108.19,-8.96 L110.10,-8.96 L111.37,-8.32 L112.01,-6.40 L112.01,0.00 M122.01,-7.04 L121.37,-8.32 L119.46,-8.96 L117.55,-8.96 L115.64,-8.32 L115.00,-7.04 L115.64,-5.76 L116.91,-5.12 L120.10,-4.48 L121.37,-3.84 L122.01,-2.56 L122.01,-1.92 L121.37,-0.64 L119.46,0.00 L117.55,0.00 L115.64,-0.64 L115.00,-1.92 M125.00,-8.96 L125.00,0.00 M129.98,-13.44 L129.98,-2.56 L130.60,-0.64 L131.84,0.00 L133.08,0.00 M128.00,-8.96 L132.09,-8.96 M136.99,-8.96 L140.50,0.00 M144.00,-8.96 L140.50,0.00 L139.33,2.56 L138.16,3.84 L136.99,4.48 L136.40,4.48 "/>
<path transform="translate(0,446.5)" d="M344.50,-8.00 L344.50,0.00 M344.50,-6.00 L346.00,-8.00 L349.60,-8.00 L351.10,-6.57 L351.10,0.00 M351.10,-6.57 L352.60,-8.00 L356.20,-8.00 L357.70,-6.57 L357.70,0.00 M382.50,-8.00 L375.50,0.00 M375.50,-8.00 L382.50,-8.00 M375.50,0.00 L382.50,0.00 "/>
<path d="M371.5,432.5 L360.5,451.5"/>
</g></svg></body></html>
